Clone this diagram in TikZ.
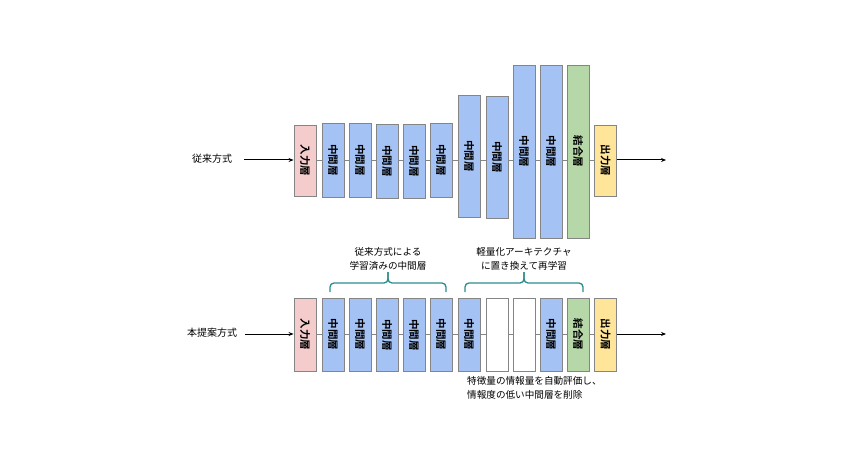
\documentclass[tikz,border=0pt]{standalone}
\usepackage{fontspec}
\setmainfont{Noto Sans CJK JP}[BoldFont={Noto Sans CJK JP Bold}]
\usetikzlibrary{arrows.meta}
\definecolor{pinkc}{HTML}{F4CCCC}
\definecolor{bluec}{HTML}{A4C2F4}
\definecolor{greenc}{HTML}{B6D7A8}
\definecolor{yellowc}{HTML}{FFE599}
\definecolor{edgec}{HTML}{858585}
\definecolor{tealc}{HTML}{2A8C8C}
\tikzset{
  box/.style={draw=edgec, line width=0.9pt, rectangle, inner sep=0pt, minimum width=22pt, font=\fontsize{10.5}{11}\selectfont\bfseries},
  conn/.style={draw=edgec, line width=0.9pt},
  arr/.style={draw=black, line width=1pt, -{Stealth[length=5pt,width=4pt]}},
  lbl/.style={font=\fontsize{10}{11}\selectfont, inner sep=0pt},
  note/.style={inner sep=0pt, font=\fontsize{9.6}{14}\selectfont},
  brc/.style={draw=tealc, line width=1.3pt, rounded corners=4pt},
}
\newcommand{\vt}[1]{\rotatebox{-90}{#1}}
\begin{document}
\begin{tikzpicture}[x=1pt,y=-1pt]
\useasboundingbox[fill=white] (0,0) rectangle (850,470);
% ---- top row ----
\coordinate (ra) at (0,160);
\node[box, fill=pinkc, minimum height=71pt] (a0) at (305,160.5) {\vt{入力層}};
\node[box, fill=bluec, minimum height=74pt] (a1) at (333,160) {\vt{中間層}};
\node[box, fill=bluec, minimum height=74pt] (a2) at (360,160) {\vt{中間層}};
\node[box, fill=bluec, minimum height=74pt] (a3) at (387,161) {\vt{中間層}};
\node[box, fill=bluec, minimum height=74pt] (a4) at (414,161) {\vt{中間層}};
\node[box, fill=bluec, minimum height=74pt] (a5) at (441,160) {\vt{中間層}};
\node[box, fill=bluec, minimum height=122pt] (a6) at (469,156) {\vt{中間層}};
\node[box, fill=bluec, minimum height=122pt] (a7) at (497,157) {\vt{中間層}};
\node[box, fill=bluec, minimum height=173pt] (a8) at (524,151.5) {\vt{中間層}};
\node[box, fill=bluec, minimum height=173pt] (a9) at (551,151.5) {\vt{中間層}};
\node[box, fill=greenc, minimum height=173pt] (a10) at (578,151.5) {\vt{結合層}};
\node[box, fill=yellowc, minimum height=71pt] (a11) at (605.5,160.5) {\vt{出力層}};
\foreach \i/\j in {a0/a1,a1/a2,a2/a3,a3/a4,a4/a5,a5/a6,a6/a7,a7/a8,a8/a9,a9/a10,a10/a11}
  \draw[conn] (\i.east|-ra) -- (\j.west|-ra);
\node[lbl] (la) at (212,159) {従来方式};
\coordinate (aout) at (666,160);
\draw[arr] (la.east|-ra) ++(12,0) -- (a0.west|-ra);
\draw[arr] (a11.east|-ra) -- (aout);
% ---- bottom row ----
\coordinate (rb) at (0,334);
\node[box, fill=pinkc, minimum height=73pt] (b0) at (305,334.5) {\vt{入力層}};
\node[box, fill=bluec, minimum height=73pt] (b1) at (333,334.5) {\vt{中間層}};
\node[box, fill=bluec, minimum height=73pt] (b2) at (360,334.5) {\vt{中間層}};
\node[box, fill=bluec, minimum height=73pt] (b3) at (387,335) {\vt{中間層}};
\node[box, fill=bluec, minimum height=73pt] (b4) at (414,335) {\vt{中間層}};
\node[box, fill=bluec, minimum height=73pt] (b5) at (441,334.5) {\vt{中間層}};
\node[box, fill=bluec, minimum height=73pt] (b6) at (469,334.5) {\vt{中間層}};
\node[box, fill=white, minimum height=73pt] (b7) at (497,335) {};
\node[box, fill=white, minimum height=73pt] (b8) at (524,335) {};
\node[box, fill=bluec, minimum height=73pt] (b9) at (551,334.5) {\vt{中間層}};
\node[box, fill=greenc, minimum height=73pt] (b10) at (578,334.5) {\vt{結合層}};
\node[box, fill=yellowc, minimum height=73pt] (b11) at (605.5,334.5) {\vt{出力層}};
\foreach \i/\j in {b0/b1,b1/b2,b2/b3,b3/b4,b4/b5,b5/b6,b6/b7,b7/b8,b8/b9,b9/b10,b10/b11}
  \draw[conn] (\i.east|-rb) -- (\j.west|-rb);
\node[lbl] (lb) at (212,333) {本提案方式};
\coordinate (bout) at (666,334);
\draw[arr] (lb.east|-rb) ++(8,0) -- (b0.west|-rb);
\draw[arr] (b11.east|-rb) -- (bout);
% ---- braces and notes ----
\coordinate (br1a) at (330,292);
\coordinate (br1b) at (446,292);
\coordinate (br1t) at (388,272);
\coordinate (br2a) at (465,292);
\coordinate (br2b) at (583,292);
\coordinate (br2t) at (524,272);
\draw[brc] (br1a) -- ++(0,-9) -- (br1t|-0,283) -- (br1t);
\draw[brc] (br1b) -- ++(0,-9) -- (br1t|-0,283) -- (br1t);
\draw[brc] (br2a) -- ++(0,-9) -- (br2t|-0,283) -- (br2t);
\draw[brc] (br2b) -- ++(0,-9) -- (br2t|-0,283) -- (br2t);
\node[note, align=center] (t1) at (388,259) {従来方式による\\学習済みの中間層};
\node[note, align=center] (t2) at (524,259) {軽量化アーキテクチャ\\に置き換えて再学習};
\node[note, align=left, anchor=north west] (t3) at (467,376) {特徴量の情報量を自動評価し、\\情報度の低い中間層を削除};
\end{tikzpicture}
\end{document}
